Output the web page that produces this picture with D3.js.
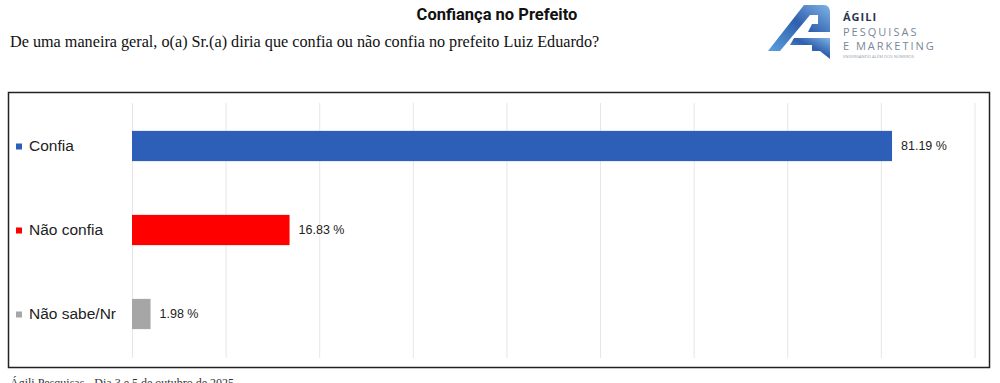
<!DOCTYPE html>
<html>
<head>
<meta charset="utf-8">
<script src="https://cdn.jsdelivr.net/npm/d3@7"></script>
<style>
  body { margin: 0; background: #fff; }
  svg { display: block; }
</style>
</head>
<body>
<div id="chart"></div>
<script>
const width = 1000;
const height = 383;

// data
const categories = ["Confia", "Não confia", "Não sabe/Nr"];
const values = [81.19, 16.83, 1.98];
const colors = ["#2e5fb8", "#ff0000", "#a6a6a6"];
const gridTicks = [0, 10, 20, 30, 40, 50, 60, 70, 80, 90];

const title = "Confiança no Prefeito";
const question = "De uma maneira geral, o(a) Sr.(a) diria que confia ou não confia no prefeito Luiz Eduardo?";
const footer = "Ágili Pesquisas - Dia 3 e 5 de outubro de 2025";

const svg = d3.select("#chart").append("svg").attr("width", width).attr("height", height);

svg.append("text")
    .attr("x", 497)
    .attr("y", 20)
    .attr("text-anchor", "middle")
    .attr("font-family", "Roboto, Arial, sans-serif")
    .attr("font-weight", "bold")
    .attr("font-size", 16.5)
    .attr("fill", "#111")
    .text(title)

svg.append("text")
    .attr("x", 10)
    .attr("y", 47)
    .attr("font-family", "'Liberation Serif', 'Times New Roman', serif")
    .attr("font-size", 16.2)
    .attr("fill", "#111")
    .text(question)

// logo
const defs = svg.append("defs");
const grad = defs.append("linearGradient").attr("id", "logoGrad")
    .attr("x1", "0%").attr("y1", "100%").attr("x2", "100%").attr("y2", "0%");
grad.append("stop").attr("offset", "0%").attr("stop-color", "#5aa0dc");
grad.append("stop").attr("offset", "55%").attr("stop-color", "#2f5fae");
grad.append("stop").attr("offset", "100%").attr("stop-color", "#7fb4e4");

const logo = svg.append("g").attr("transform", "translate(768,5)");
logo.append("path")
    .attr("d", "M0,46 L36,0 L56,0 Q62,0 62,8 L62,27 L40,27 L44,19 L50,19 L50,10 L42,10 L12,46 Z")
    .attr("fill", "url(#logoGrad)")
logo.append("path")
    .attr("d", "M26,33 L62,33 L62,54 L52,46 L44,46 L44,40 L22,40 Z")
    .attr("fill", "url(#logoGrad)")

svg.append("text")
    .attr("x", 843).attr("y", 21)
    .attr("font-family", "'Open Sans', sans-serif")
    .attr("font-weight", "bold")
    .attr("font-size", 11)
    .attr("letter-spacing", 1)
    .attr("fill", "#2a3550")
    .text("ÁGILI")
svg.append("text")
    .attr("x", 843).attr("y", 36)
    .attr("font-family", "'Open Sans', sans-serif")
    .attr("font-size", 11)
    .attr("letter-spacing", 2)
    .attr("fill", "#7a8796")
    .text("PESQUISAS")
svg.append("text")
    .attr("x", 843).attr("y", 50)
    .attr("font-family", "'Open Sans', sans-serif")
    .attr("font-size", 11)
    .attr("letter-spacing", 2)
    .attr("fill", "#7a8796")
    .text("E MARKETING")
svg.append("text")
    .attr("x", 843).attr("y", 57.5)
    .attr("font-family", "'Open Sans', sans-serif")
    .attr("font-size", 4.2)
    .attr("fill", "#9aa3ad")
    .text("ENXERGANDO ALÉM DOS NÚMEROS")

// frame
svg.append("rect")
    .attr("x", 8.5)
    .attr("y", 92.5)
    .attr("width", 981)
    .attr("height", 275)
    .attr("fill", "none")
    .attr("stroke", "#222")
    .attr("stroke-width", 1.5)

const xScale = d3.scaleLinear()
    .domain([0, 90])
    .range([132, 974.5]);

const yScale = d3.scaleBand()
    .domain(categories)
    .range([104, 356])
    .paddingInner(0.64)
    .paddingOuter(0.32);

const xAxis = d3.axisBottom(xScale)
    .tickValues(gridTicks)
    .tickSize(-(358 - 103))
    .tickFormat("");

const grid = svg.append("g")
    .attr("class", "grid")
    .attr("transform", "translate(0,358)")
    .call(xAxis);
grid.select(".domain").remove();
grid.selectAll(".tick line").attr("stroke", "#e6e6e6").attr("stroke-width", 1);

svg.selectAll("rect.bar")
    .data(values)
    .join("rect")
    .attr("class", "bar")
    .attr("x", xScale(0))
    .attr("y", (d, i) => yScale(categories[i]))
    .attr("width", d => xScale(d) - xScale(0))
    .attr("height", yScale.bandwidth())
    .attr("fill", (d, i) => colors[i])

svg.selectAll("text.value")
    .data(values)
    .join("text")
    .attr("class", "value")
    .attr("x", d => xScale(d) + 9)
    .attr("y", (d, i) => yScale(categories[i]) + yScale.bandwidth() / 2)
    .attr("dy", "0.35em")
    .attr("font-family", "'Liberation Sans', Arial, sans-serif")
    .attr("font-size", 12.5)
    .attr("fill", "#222")
    .text(d => d.toFixed(2) + " %")

const legend = svg.selectAll("g.cat")
    .data(categories)
    .join("g")
    .attr("class", "cat")
    .attr("transform", d => `translate(16,${yScale(d) + yScale.bandwidth() / 2})`);

legend.append("rect")
    .attr("x", 0)
    .attr("y", -2.5)
    .attr("width", 6)
    .attr("height", 6)
    .attr("fill", (d, i) => colors[i])

legend.append("text")
    .attr("x", 13)
    .attr("dy", "0.35em")
    .attr("font-family", "'Liberation Sans', Arial, sans-serif")
    .attr("font-size", 15.5)
    .attr("fill", "#222")
    .text(d => d)

svg.append("text")
    .attr("x", 10)
    .attr("y", 387)
    .attr("font-family", "'Liberation Serif', 'Times New Roman', serif")
    .attr("font-size", 12)
    .attr("fill", "#333")
    .text(footer)
</script>
</body>
</html>
